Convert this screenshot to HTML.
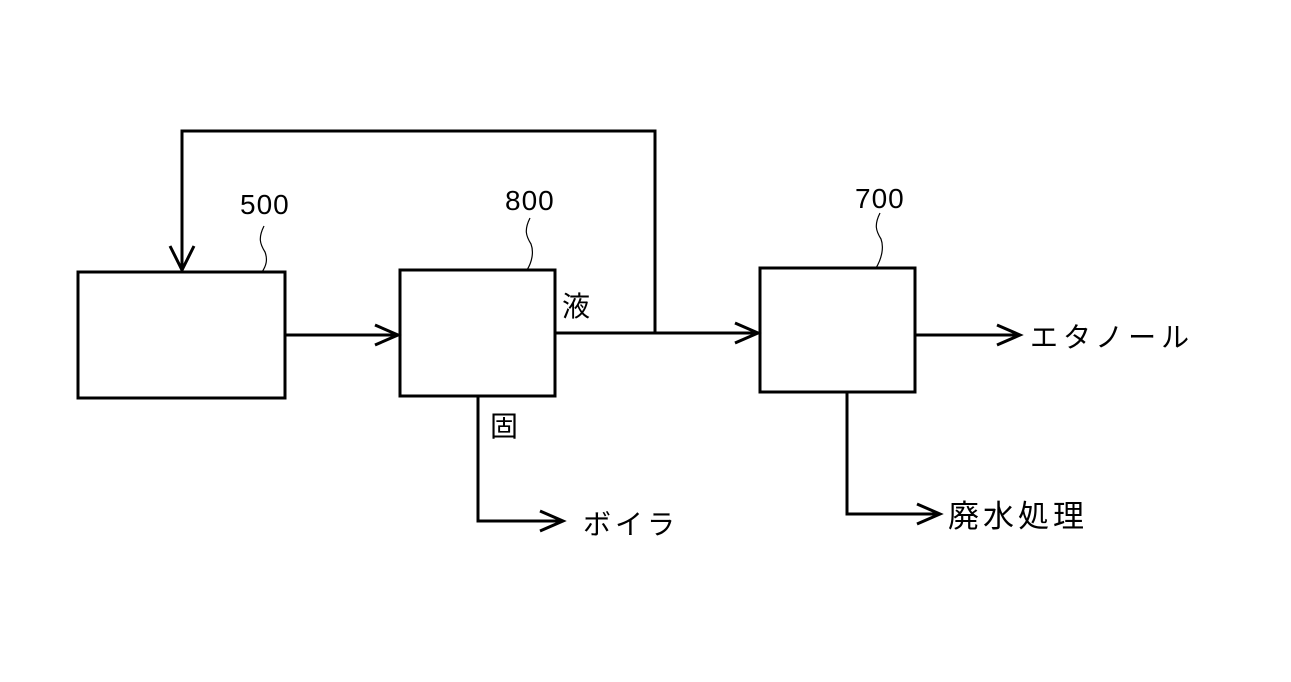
<!DOCTYPE html>
<html><head><meta charset="utf-8"><style>
body{margin:0;background:#fff}
svg text{font-family:"Liberation Sans","Noto Sans CJK JP",sans-serif;fill:#000}
</style></head><body>
<svg width="1291" height="677" viewBox="0 0 1291 677" xmlns="http://www.w3.org/2000/svg">
<g fill="none" stroke="#000" stroke-width="3">
<rect x="78" y="272" width="207" height="126"/>
<rect x="400" y="270" width="155" height="126"/>
<rect x="760" y="268" width="155" height="124"/>
<polyline points="182,270 182,131 655,131 655,333"/>
<polyline points="170,246 182,270 194,246"/>
<line x1="285" y1="335" x2="398" y2="335"/>
<polyline points="375,325 398,335 375,345"/>
<line x1="555" y1="333" x2="758" y2="333"/>
<polyline points="735,323 758,333 735,343"/>
<line x1="915" y1="335" x2="1020" y2="335"/>
<polyline points="997,325 1020,335 997,345"/>
<polyline points="478,396 478,521 563,521"/>
<polyline points="540,511 563,521 540,531"/>
<polyline points="847,392 847,514 940,514"/>
<polyline points="917,504 940,514 917,524"/>
</g>
<g fill="none" stroke="#000" stroke-width="1.2">
<path d="M264,226 C258,238 260,244 265,252 C268,260 266,266 262,272"/>
<path d="M530,218 C524,230 526,236 531,244 C534,252 532,262 527,270"/>
<path d="M880,213 C874,225 876,231 881,239 C884,247 882,258 876,268"/>
</g>
<g font-size="28">
<text x="240" y="214" letter-spacing="1">500</text>
<text x="505" y="210" letter-spacing="1">800</text>
<text x="855" y="208" letter-spacing="1">700</text>
<text x="562" y="316">液</text>
<text x="490" y="436">固</text>
<text x="583" y="534" letter-spacing="4">ボイラ</text>
<text x="1030" y="347" letter-spacing="5">エタノール</text>
<text x="948" y="527" font-size="31" letter-spacing="4">廃水処理</text>
</g>
</svg>
</body></html>
